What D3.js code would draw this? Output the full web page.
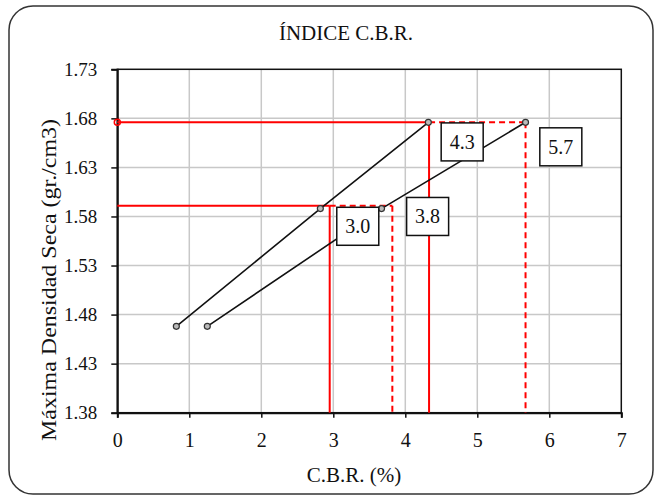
<!DOCTYPE html>
<html>
<head>
<meta charset="utf-8">
<script src="https://cdn.jsdelivr.net/npm/d3@7"></script>
<style>
  body { margin: 0; background: #fff; }
  svg text { font-family: "Liberation Serif", Tinos, "DejaVu Serif", serif !important; fill: #111; }
</style>
</head>
<body>
<script>
(function(){

  // curvas CBR (dos series)
  var cbrA = [0.82, 2.82, 4.32]
  var densA = [1.468, 1.588, 1.676]
  var cbrB = [1.25, 3.67, 5.67]
  var densB = [1.468, 1.588, 1.676]

  // lineas de lectura (rojas)
  var densMax = 1.676, dens95 = 1.591
  var cbrSolid = [2.95, 4.33]
  var cbrDash = [3.82, 5.67]

  // etiquetas en cajas
  var labelText = ['4.3', '5.7', '3.8', '3.0']
  var labelX = [4.79, 6.16, 4.31, 3.34]
  var labelY = [1.656, 1.651, 1.580, 1.570]

  var xTicks = [0, 1, 2, 3, 4, 5, 6, 7]
  var yTicks = [1.38, 1.43, 1.48, 1.53, 1.58, 1.63, 1.68, 1.73]

  var W = 657, H = 497

  var svg = d3.select('body').append('svg')
      .attr('width', W).attr('height', H)

  svg.append('rect')
      .attr('x', 9).attr('y', 6)
      .attr('width', 644).attr('height', 488)
      .attr('rx', 24)
      .attr('fill', 'white').attr('stroke', '#333').attr('stroke-width', 1.5)

  var x = d3.scaleLinear().domain([0, 7]).range([117.3, 621.3])
  var y = d3.scaleLinear().domain([1.38, 1.73]).range([412.7, 69.3])

  // grid
  svg.append('g').selectAll('line').data(xTicks.slice(1, -1)).enter().append('line')
      .attr('x1', d => x(d)).attr('x2', d => x(d))
      .attr('y1', y(1.73)).attr('y2', y(1.38))
      .attr('stroke', '#c8c8c8').attr('stroke-width', 1.5)
  svg.append('g').selectAll('line').data(yTicks.slice(1, -1)).enter().append('line')
      .attr('x1', x(0)).attr('x2', x(7))
      .attr('y1', d => y(d)).attr('y2', d => y(d))
      .attr('stroke', '#c8c8c8').attr('stroke-width', 1.5)

  svg.append('rect')
      .attr('x', x(0)).attr('y', y(1.73))
      .attr('width', x(7) - x(0)).attr('height', y(1.38) - y(1.73))
      .attr('fill', 'none').attr('stroke', '#111').attr('stroke-width', 1.5)

  // axes
  var yAxis = svg.append('g')
      .attr('transform', 'translate(' + x(0) + ',0)')
      .call(d3.axisLeft(y).tickValues(yTicks).tickFormat(d3.format('.2f')).tickSize(6).tickPadding(14))
  var xAxis = svg.append('g')
      .attr('transform', 'translate(0,' + y(1.38) + ')')
      .call(d3.axisBottom(x).tickValues(xTicks).tickFormat(d3.format('d')).tickSize(5).tickPadding(15))
  ;[yAxis, xAxis].forEach(function(a){
    a.attr('font-family', null)
    a.select('.domain').attr('stroke', '#111').attr('stroke-width', 2)
    a.selectAll('.tick line').attr('stroke', '#111').attr('stroke-width', 1.5)
    a.selectAll('text').attr('fill', '#111')
  })
  yAxis.selectAll('text').style('font-size', '19px')
  xAxis.selectAll('text').style('font-size', '20px')

  // red reading lines
  var red = svg.append('g').attr('stroke', '#ff0000').attr('stroke-width', 2).attr('fill', 'none')
  red.append('line').attr('x1', x(0)).attr('x2', x(cbrSolid[1])).attr('y1', y(densMax)).attr('y2', y(densMax))
  red.append('line').attr('x1', x(cbrSolid[1])).attr('x2', x(cbrDash[1])).attr('y1', y(densMax)).attr('y2', y(densMax))
      .attr('stroke-dasharray', '6,4')
  red.append('line').attr('x1', x(0)).attr('x2', x(cbrSolid[0])).attr('y1', y(dens95)).attr('y2', y(dens95))
  red.append('line').attr('x1', x(cbrSolid[0])).attr('x2', x(cbrDash[0])).attr('y1', y(dens95)).attr('y2', y(dens95))
      .attr('stroke-dasharray', '6,4')
  red.append('line').attr('x1', x(cbrSolid[0])).attr('x2', x(cbrSolid[0])).attr('y1', y(dens95)).attr('y2', y(1.38))
  red.append('line').attr('x1', x(cbrDash[0])).attr('x2', x(cbrDash[0])).attr('y1', y(dens95)).attr('y2', y(1.38))
      .attr('stroke-dasharray', '6,4')
  red.append('line').attr('x1', x(cbrSolid[1])).attr('x2', x(cbrSolid[1])).attr('y1', y(densMax)).attr('y2', y(1.38))
  red.append('line').attr('x1', x(cbrDash[1])).attr('x2', x(cbrDash[1])).attr('y1', y(densMax)).attr('y2', y(1.38))
      .attr('stroke-dasharray', '6,4')
  red.append('circle').attr('cx', x(0)).attr('cy', y(densMax)).attr('r', 3).attr('stroke-width', 1.5)

  // series
  var line = d3.line().x(d => x(d[0])).y(d => y(d[1]))
  ;[[cbrA, densA], [cbrB, densB]].forEach(function(s){
    var pts = d3.zip(s[0], s[1])
    svg.append('path').datum(pts).attr('d', line)
        .attr('fill', 'none').attr('stroke', '#111').attr('stroke-width', 1.6)
    svg.append('g').selectAll('circle').data(pts).enter().append('circle')
        .attr('cx', d => x(d[0])).attr('cy', d => y(d[1])).attr('r', 3)
        .attr('fill', '#bbb').attr('stroke', '#333').attr('stroke-width', 1.2)
  })

  // label boxes
  var boxes = svg.append('g').selectAll('g').data(labelText).enter().append('g')
      .attr('transform', (d, i) => 'translate(' + x(labelX[i]) + ',' + y(labelY[i]) + ')')
  boxes.append('rect').attr('x', -21).attr('y', -19).attr('width', 42).attr('height', 38)
      .attr('fill', 'white').attr('stroke', '#111').attr('stroke-width', 1.5)
  boxes.append('text').attr('text-anchor', 'middle').attr('dy', '0.35em')
      .style('font-size', '20px').text(d => d)

  // titles
  svg.append('text').attr('x', 346).attr('y', 40).attr('text-anchor', 'middle')
      .style('font-size', '21px').text('ÍNDICE C.B.R.')
  svg.append('text').attr('x', 354).attr('y', 482).attr('text-anchor', 'middle')
      .style('font-size', '21px').text('C.B.R. (%)')
  svg.append('text').attr('transform', 'translate(56,' + 280 + ') rotate(-90)')
      .attr('text-anchor', 'middle')
      .attr('textLength', 322).attr('lengthAdjust', 'spacingAndGlyphs')
      .style('font-size', '21px').text('Máxima Densidad Seca (gr./cm3)')

})()
</script>
</body>
</html>
